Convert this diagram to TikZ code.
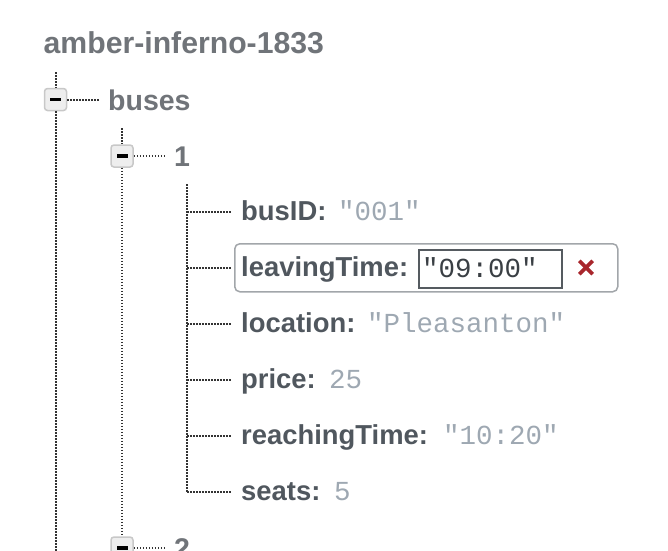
\documentclass[tikz,border=0pt]{standalone}
\usepackage{fontspec}
\setmainfont{Liberation Sans}
\setmonofont{Liberation Mono}
\definecolor{titlegray}{HTML}{707479}
\definecolor{keygray}{HTML}{50575E}
\definecolor{valgray}{HTML}{9EA8B2}
\definecolor{dotcol}{HTML}{333333}
\definecolor{togfill}{HTML}{EEEEEE}
\definecolor{togdraw}{HTML}{C8C8C8}
\definecolor{editdraw}{HTML}{A2A6AA}
\definecolor{inputdraw}{HTML}{555B60}
\definecolor{inputtext}{HTML}{3A3F44}
\definecolor{delred}{HTML}{A8262C}
\tikzset{
  dotline/.style={draw=dotcol, line width=2pt, dash pattern=on 1.5pt off 1.5pt},
  toggle/.style={draw=togdraw, fill=togfill, line width=1.5pt, rounded corners=3pt,
    minimum width=22pt, minimum height=22pt, inner sep=0pt,
    path picture={\fill[black, sharp corners] ([xshift=-5.5pt,yshift=-1.75pt]path picture bounding box.center) rectangle ++(11pt,3.5pt);}},
  titletext/.style={anchor=base west, inner sep=0pt, text=titlegray, font=\fontsize{30.2}{32}\selectfont\bfseries},
  nodetext/.style={anchor=base west, inner sep=0pt, text=titlegray, font=\fontsize{28.5}{32}\selectfont\bfseries},
  keytext/.style={anchor=base west, inner sep=0pt, text=keygray, font=\fontsize{27.4}{30}\selectfont\bfseries},
  valtext/.style={anchor=base west, inner sep=0pt, text=valgray, font=\fontsize{27.5}{30}\ttfamily},
}
\begin{document}
\begin{tikzpicture}[x=1pt,y=-1pt]
\useasboundingbox (0,0) rectangle (668,550);
\clip (0,0) rectangle (668,550);
% title
\node[titletext] (title) at (43.5,53) {amber-inferno-1833};
% level 0 : buses
\coordinate (l0top) at (55.5,72);
\coordinate (l0bot) at (55.5,552);
\node[toggle] (t0) at (55.5,99.5) {};
\node[nodetext] (buses) at (108,110) {buses};
\draw[dotline] (l0top) -- (t0.north);
\draw[dotline] (t0.south) -- (l0bot);
\draw[dotline, shorten >=9pt] (t0.east) -- (t0.east -| buses.west);
% level 1 : 1 and 2
\coordinate (l1top) at (122,128);
\node[toggle] (t1) at (122,156) {};
\node[toggle] (t2) at (122,548) {};
\node[nodetext] (n1) at (174,166) {1};
\node[nodetext] (n2) at (174,558) {2};
\draw[dotline] (l1top) -- (t1.north);
\draw[dotline] (t1.south) -- (t2.north);
\draw[dotline, shorten >=9pt] (t1.east) -- (t1.east -| n1.west);
\draw[dotline, shorten >=9pt] (t2.east) -- (t2.east -| n2.west);
% level 2 : fields of 1
\coordinate (l2top) at (187,184);
\coordinate (r1) at (187,212);
\coordinate (r2) at (187,268);
\coordinate (r3) at (187,324);
\coordinate (r4) at (187,380);
\coordinate (r5) at (187,436);
\coordinate (r6) at (187,492);
\draw[dotline] (l2top) -- (r6);
% edit box behind leavingTime
\node[draw=editdraw, line width=1.5pt, rounded corners=5pt, fill=white,
      minimum width=383pt, minimum height=48pt, anchor=north west, inner sep=0pt] (editbox) at (234,243) {};
\node[draw=inputdraw, line width=2pt, minimum width=143pt, minimum height=38pt,
      anchor=north west, inner sep=0pt] (input) at (418,249) {};
\node[anchor=base west, inner sep=0pt, text=inputtext, font=\fontsize{27.5}{30}\ttfamily] (inval) at (422,277) {"09:00"};
\node[minimum size=13pt, inner sep=0pt] (del) at (586,267.5) {};
\draw[delred, line width=3.6pt] (del.north west) -- (del.south east);
\draw[delred, line width=3.6pt] (del.north east) -- (del.south west);
% keys
\node[keytext] (k1) at (241,220) {busID:};
\node[keytext] (k2) at (241,276) {leavingTime:};
\node[keytext] (k3) at (241,332) {location:};
\node[keytext] (k4) at (241,388) {price:};
\node[keytext] (k5) at (241,444) {reachingTime:};
\node[keytext] (k6) at (241,500) {seats:};
% values
\node[valtext] (v1) at (338,220) {"001"};
\node[valtext] (v3) at (367,332) {"Pleasanton"};
\node[valtext] (v4) at (329,388) {25};
\node[valtext] (v5) at (443,444) {"10:20"};
\node[valtext] (v6) at (334,500) {5};
% connectors
\foreach \r/\k in {r1/k1,r2/k2,r3/k3,r4/k4,r5/k5,r6/k6}
  \draw[dotline, shorten >=9pt] (\r) -- (\r -| \k.west);
\end{tikzpicture}
\end{document}
